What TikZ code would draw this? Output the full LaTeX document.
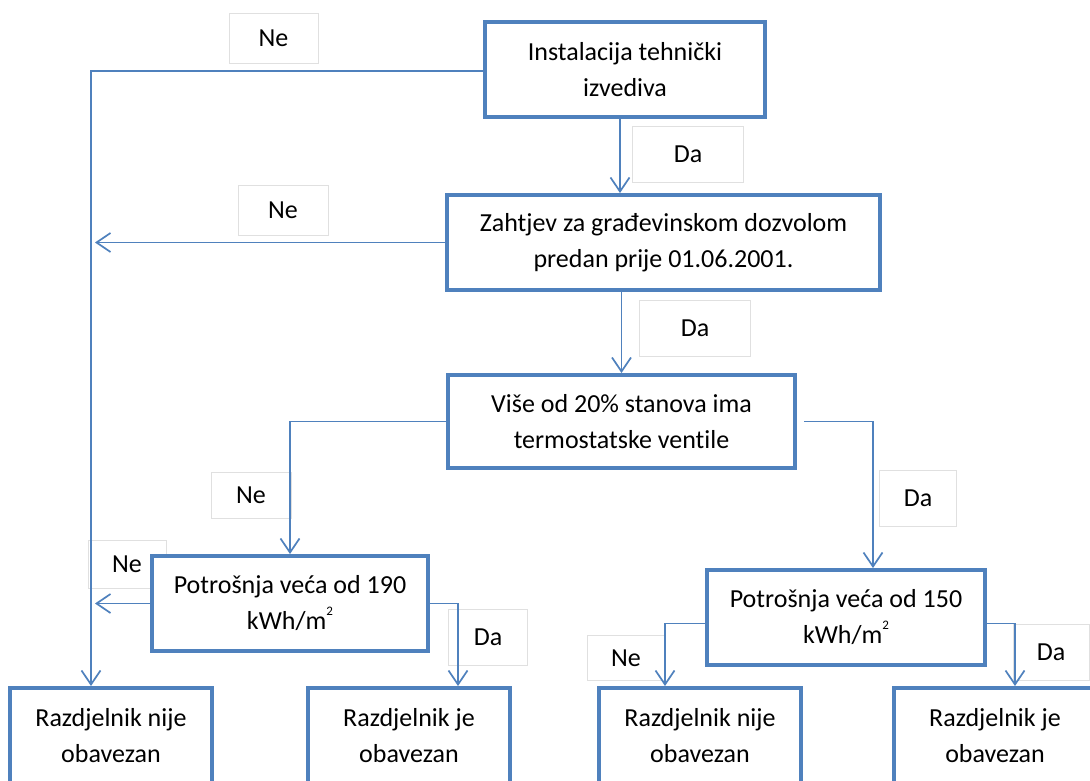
\documentclass[tikz,border=0pt]{standalone}
\usepackage{fontspec}
\setmainfont[Ligatures=NoCommon]{Carlito}
\usetikzlibrary{arrows.meta}
\definecolor{bl}{RGB}{79,129,189}
\newcommand{\sqm}{m\raisebox{0.55em}{\fontsize{13}{13}\selectfont 2}}
\begin{document}
\begin{tikzpicture}[x=1pt,y=-1pt,
 box/.style={draw=bl,line width=4pt,fill=white,align=center,inner sep=0pt,font=\fontsize{26}{36}\selectfont},
 lab/.style={draw=black!12,line width=0.8pt,inner sep=0pt,font=\fontsize{26}{30}\selectfont},
 conn/.style={draw=bl,line width=1.7pt},
 arr/.style={conn,-{Straight Barb[length=14pt,width=19pt,line width=1.7pt]}}]
\useasboundingbox (0,0) rectangle (1090,780);
\fill[white] (0,0) rectangle (1090,780);
% labels
\node[lab,minimum width=89,minimum height=50] (l1) at (273.5,38) {Ne};
\node[lab,minimum width=111,minimum height=56] (l2) at (688,154) {Da};
\node[lab,minimum width=90,minimum height=50] (l3) at (283,210) {Ne};
\node[lab,minimum width=111,minimum height=56] (l4) at (695,328) {Da};
\node[lab,minimum width=80,minimum height=46] (l5) at (251,495) {Ne};
\node[lab,minimum width=77,minimum height=56] (l6) at (918,498) {Da};
\node[lab,minimum width=78,minimum height=48] (l7) at (127,564) {Ne};
\node[lab,minimum width=79,minimum height=56] (l8) at (488,637) {Da};
\node[lab,minimum width=78,minimum height=45] (l9) at (626,658) {Ne};
\node[lab,minimum width=76,minimum height=56] (l10) at (1051,652) {Da};
% boxes
\node[box,minimum width=280,minimum height=95] (b1) at (625,69.5) {Instalacija tehnički\\izvediva};
\node[box,minimum width=433,minimum height=95] (b2) at (663.5,242.5) {Zahtjev za građevinskom dozvolom\\predan prije 01.06.2001.};
\node[box,minimum width=347,minimum height=93] (b3) at (621.5,421.5) {Više od 20\% stanova ima\\termostatske ventile};
\node[box,minimum width=276,minimum height=95] (b4) at (290,603.5) {Potrošnja veća od 190\\kWh/\sqm};
\node[box,minimum width=278,minimum height=95] (b5) at (846,617.5) {Potrošnja veća od 150\\kWh/\sqm};
\node[box,minimum width=202,minimum height=96] (b6) at (111,736) {Razdjelnik nije\\obavezan};
\node[box,minimum width=202,minimum height=96] (b7) at (409,736) {Razdjelnik je\\obavezan};
\node[box,minimum width=202,minimum height=96] (b8) at (700,736) {Razdjelnik nije\\obavezan};
\node[box,minimum width=202,minimum height=96] (b9) at (995,736) {Razdjelnik je\\obavezan};
% connectors
\coordinate (k1) at (91,71);
\draw[arr] (b1.west |- k1) -- (k1) -- (k1 |- b6.north);
\draw[arr] (b2.west) -- ([xshift=4pt]b2.west -| k1);
\draw[arr] (b4.west) -- ([xshift=4pt]b4.west -| k1);
\draw[arr] ([xshift=-5pt]b1.south) -- ([xshift=-5pt]b1.south |- b2.north);
\draw[arr] (b3.north |- b2.south) -- (b3.north);
\draw[arr] (b3.west) -| (b4.north);
\draw[arr] ([xshift=7pt]b3.east) -| ([xshift=27pt]b5.north);
\draw[arr] (b4.east) -| ([xshift=49pt]b7.north);
\draw[arr] ([yshift=-6pt]b5.west) -| ([xshift=-35pt]b8.north);
\draw[arr] ([yshift=-6pt]b5.east) -| ([xshift=20pt]b9.north);
\end{tikzpicture}
\end{document}
